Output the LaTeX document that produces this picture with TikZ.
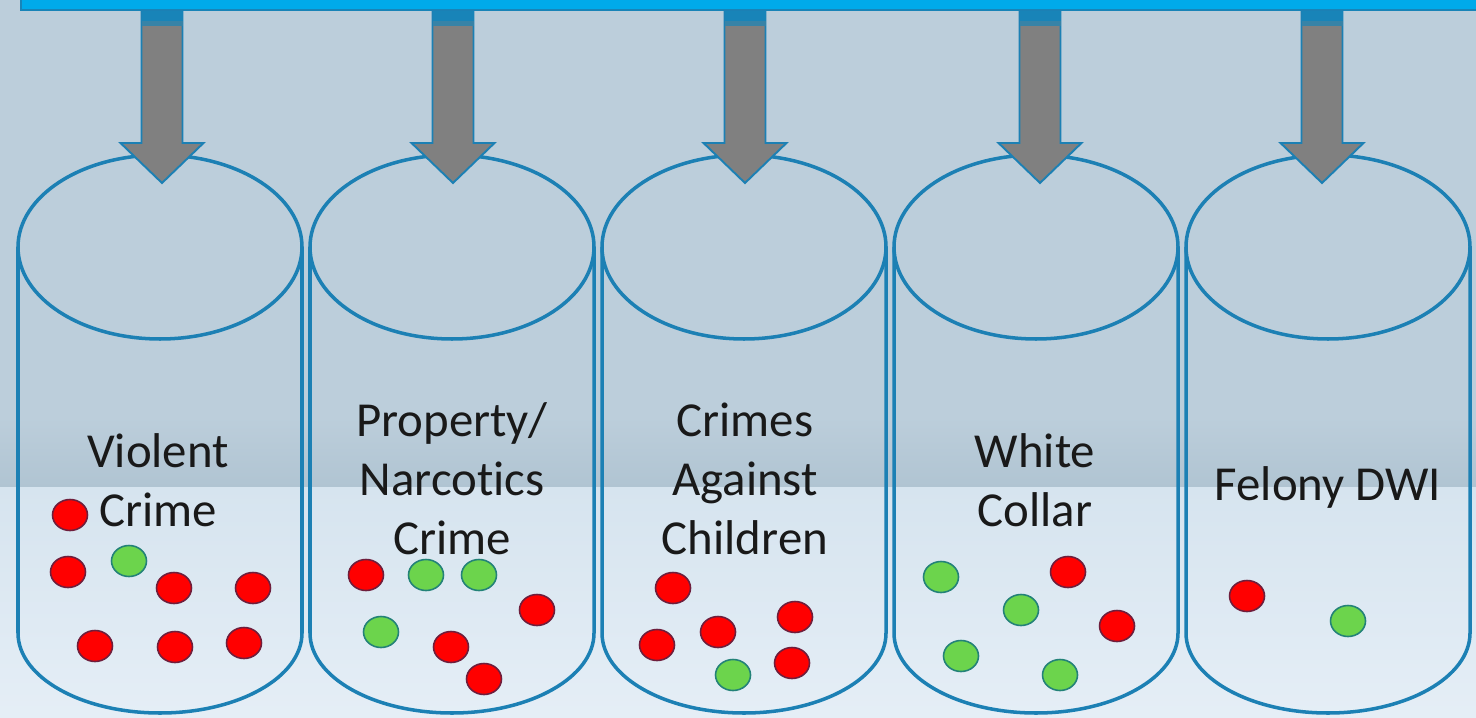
\documentclass[tikz,border=0pt]{standalone}
\usepackage{fontspec}
\setmainfont{Carlito}[Ligatures=NoCommon]
\usetikzlibrary{calc,positioning}
\definecolor{bgtop}{RGB}{188,206,219}
\definecolor{bgmid}{RGB}{176,196,210}
\definecolor{bglow}{RGB}{214,228,239}
\definecolor{bgbot}{RGB}{229,238,246}
\definecolor{barblue}{RGB}{0,170,234}
\definecolor{barline}{RGB}{24,132,184}
\definecolor{cylblue}{RGB}{28,128,180}
\definecolor{arrowgray}{RGB}{128,128,128}
\definecolor{dotred}{RGB}{255,0,0}
\definecolor{dotredline}{RGB}{110,30,60}
\definecolor{dotgreen}{RGB}{108,212,76}
\definecolor{dotgreenline}{RGB}{35,130,120}

\begin{document}
\begin{tikzpicture}[x=0.02cm, y=0.02cm,
  cylline/.style={draw=cylblue, line width=2pt},
  blockarrow/.style={fill=arrowgray, draw=cylblue, line width=1.1pt, line join=miter},
  binlabel/.style={align=center, font=\fontsize{27.8}{33.6}\selectfont, text=black!90, inner sep=0pt},
  reddot/.style={fill=dotred, draw=dotredline, line width=0.9pt},
  greendot/.style={fill=dotgreen, draw=dotgreenline, line width=0.9pt}
]

% ================= BACKGROUND =================
\useasboundingbox (0,0) rectangle (1476,717);
\fill[bgtop] (0,300) rectangle (1476,717);
\shade[top color=bgtop, bottom color=bgmid] (0,230) rectangle (1476,300.5);
\shade[top color=bglow, bottom color=bgbot] (0,0) rectangle (1476,230);

% ================= TOP BAR =================
\node[fill=barblue, draw=barline, line width=1.2pt, inner sep=0pt,
      minimum width=29.4cm, minimum height=0.4cm, anchor=south west]
      (bar) at (20,706) {};

% ================= CYLINDERS =================
\foreach \i/\cx in {1/160,2/452,3/744,4/1036,5/1328} {
  \draw[cylline] (\cx,470) ellipse [x radius=142, y radius=92];
  \draw[cylline] (\cx-142,470) -- (\cx-142,84)
    arc[start angle=180, end angle=360, x radius=142, y radius=80]
    -- (\cx+142,470);
  \coordinate (cyl\i) at (\cx,470);
}

% ================= ARROWS =================
\foreach \i/\ax in {1/162,2/453,3/745,4/1040,5/1322} {
  \coordinate (tip\i) at (\ax,534);
  \coordinate (root\i) at (bar.south -| tip\i);
  \draw[blockarrow] ($(root\i)+(-20.5,0)$) -- ($(tip\i)+(-20.5,40)$)
    -- ($(tip\i)+(-41.5,40)$) -- (tip\i) -- ($(tip\i)+(41.5,40)$)
    -- ($(tip\i)+(20.5,40)$) -- ($(root\i)+(20.5,0)$) -- cycle;
  \fill[barline] ($(root\i)+(-20.5,0)$) rectangle ($(root\i)+(20.5,-10)$);
  \fill[barline!70!arrowgray] ($(root\i)+(-20.5,-10)$) rectangle ($(root\i)+(20.5,-15)$);
}

% ================= LABELS =================
\node[binlabel] (lbl1) at (158,237) {Violent\\Crime};
\node[binlabel] (lbl2) at (452,238) {Property/\\Narcot\kern0pt ics\\Crime};
\node[binlabel] (lbl3) at (745,238) {Crimes\\Against\\Children};
\node[binlabel] (lbl4) at (1035,237) {White\\Collar};
\node[binlabel] (lbl5) at (1328,230) {Felony DWI};

% ================= DOTS =================
\foreach \x/\y in {70/202,68/145,174/129,253/129,95/71,175/70,244/74,
                   366/142,537/107,451/70,484/38,
                   673/129,718/85,795/100,657/72,792/54,
                   1068/145,1117/91,1247/121}
  \draw[reddot] (\x,\y) ellipse [x radius=17.5, y radius=15.5];
\foreach \x/\y in {129/156,426/142,479/142,381/85,733/42,
                   941/140,1021/107,961/61,1060/42,1348/96}
  \draw[greendot] (\x,\y) ellipse [x radius=17.5, y radius=15.5];

\end{tikzpicture}
\end{document}
